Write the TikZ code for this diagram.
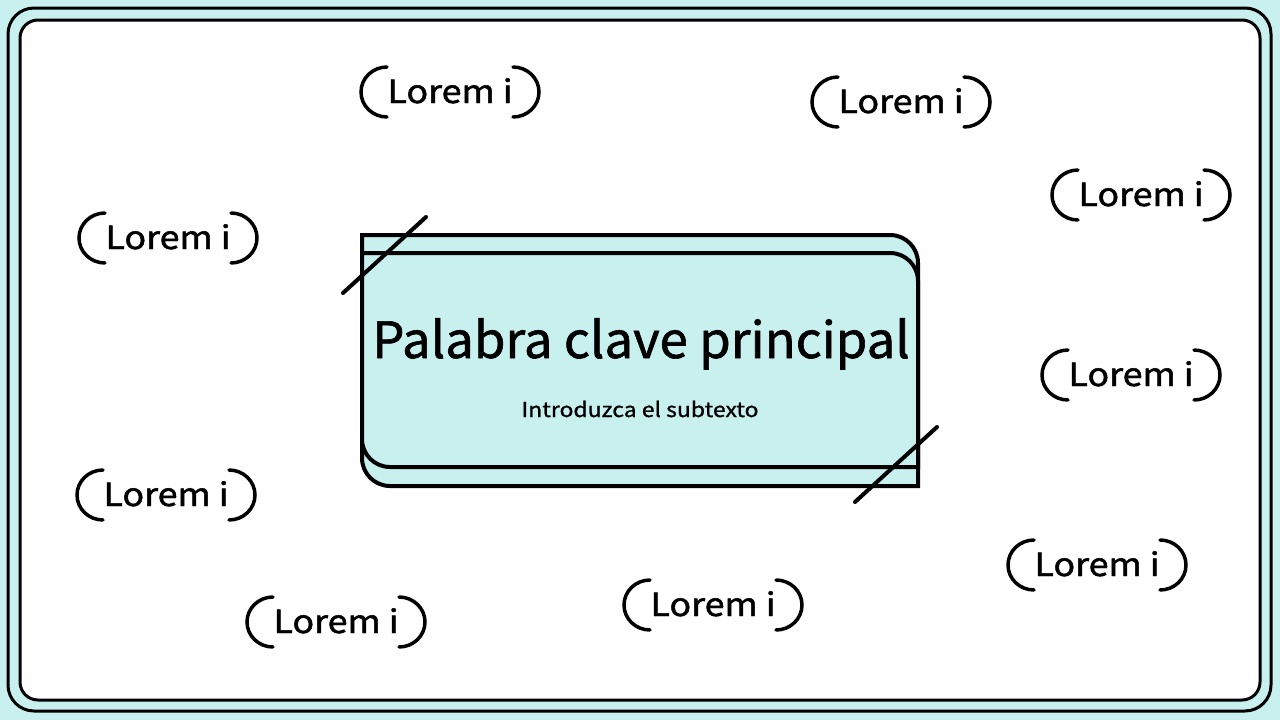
\documentclass[tikz,border=0pt]{standalone}
\usepackage{fontspec}
\setmainfont{Noto Sans CJK SC}
\newfontfamily\titlefont[FakeBold=1.2, FakeStretch=1.02]{Noto Sans CJK SC}
\newfontfamily\subfont[FakeBold=1.0, FakeStretch=1.12]{Noto Sans CJK SC}
\newfontfamily\lorfont[FakeBold=1.5, FakeStretch=1.12]{Noto Sans CJK SC}
\definecolor{teal1}{RGB}{200,240,238}
\tikzset{
  frame/.style={draw=black, line width=3pt},
  keybox/.style={draw=black, line width=4pt, fill=teal1},
  slash/.style={draw=black, line width=4pt, line cap=round},
  brk/.style={draw=black, line width=3.5pt, line cap=round},
  lorem/.style={inner sep=0pt, anchor=base, font=\lorfont\fontsize{32}{38}\selectfont},
}
\newcommand\loremitem[3]{%
  \coordinate (#1c) at (#2,#3);
  \node[lorem] (#1) at (#2,#3+11) {Lorem i};
  \draw[brk] ([shift={(-63,-25)}]#1c) .. controls +(-14.4,0) and +(0,-13.8) .. ([shift={(-89,0)}]#1c)
     .. controls +(0,13.8) and +(-14.4,0) .. ([shift={(-63,25)}]#1c);
  \draw[brk] ([shift={(63,-25)}]#1c) .. controls +(14.4,0) and +(0,-13.8) .. ([shift={(89,0)}]#1c)
     .. controls +(0,13.8) and +(14.4,0) .. ([shift={(63,25)}]#1c);
}
\begin{document}
\begin{tikzpicture}[x=1pt,y=-1pt]
\useasboundingbox (0,0) rectangle (1280,720);
\fill[teal1] (0,0) rectangle (1280,720);
\draw[frame, rounded corners=26pt] (8,8) rectangle (1271,711);
\draw[frame, fill=white, rounded corners=18pt] (20,20) rectangle (1260,700);
% central box
\path[keybox] (362,235) -- (890,235) .. controls (905.5,235) and (918,247.5) .. (918,263)
  -- (918,486) -- (390,486) .. controls (374.5,486) and (362,473.5) .. (362,458) -- cycle;
\path[keybox] (362,253) -- (890,253) .. controls (905.5,253) and (918,265.5) .. (918,281)
  -- (918,467) -- (390,467) .. controls (374.5,467) and (362,454.5) .. (362,439) -- cycle;
\coordinate (s1a) at (343,293); \coordinate (s1b) at (426,217);
\coordinate (s2a) at (855,502); \coordinate (s2b) at (937,427);
\draw[slash] (s1a) -- (s1b);
\draw[slash] (s2a) -- (s2b);
\node[inner sep=0pt, anchor=base, font=\titlefont\fontsize{50}{60}\selectfont] (title) at (641,358) {Palabra clave principal};
\node[inner sep=0pt, anchor=base, font=\subfont\fontsize{20.5}{24}\selectfont] (sub) at (640,417) {Introduzca el subtexto};
\loremitem{l1}{450}{92}
\loremitem{l2}{901}{102}
\loremitem{l3}{1141}{195}
\loremitem{l4}{168}{238}
\loremitem{l5}{1131}{375}
\loremitem{l6}{166}{495}
\loremitem{l7}{1097}{565}
\loremitem{l8}{713}{605}
\loremitem{l9}{336}{622}
\end{tikzpicture}
\end{document}
